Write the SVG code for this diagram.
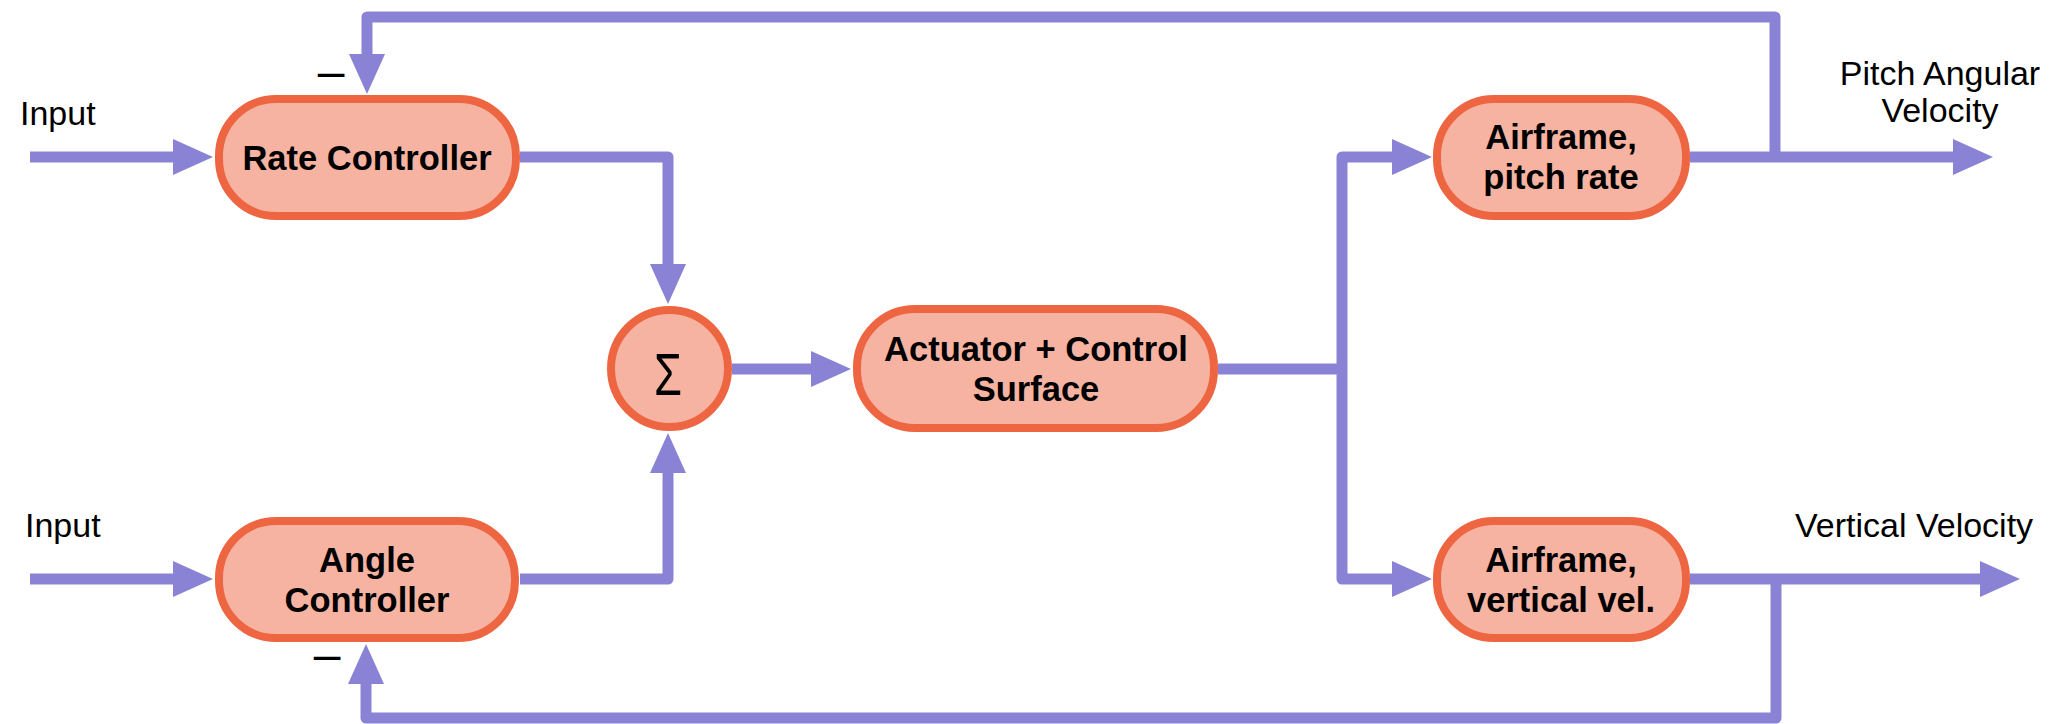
<svg xmlns="http://www.w3.org/2000/svg" width="2069" height="724" viewBox="0 0 2069 724">
  <style>
    .node { fill: #F6B3A1; stroke: #EE6542; stroke-width: 8; }
    .lbl { font-family: "Liberation Sans", Arial, sans-serif; font-size: 34.5px; font-weight: bold; fill: #000; text-anchor: middle; }
    .txt { font-family: "Liberation Sans", Arial, sans-serif; font-size: 34px; fill: #000; }
    .conn { fill: none; stroke: #8A83D5; stroke-width: 11; stroke-linejoin: round; }
    .arr { marker-end: url(#ah); }
    .minus { font-family: "Liberation Sans", Arial, sans-serif; font-size: 48px; fill: #000; text-anchor: middle; }
  </style>
  <defs>
    <marker id="ah" viewBox="0 -18 40 36" markerWidth="40" markerHeight="36" refX="1" refY="0" markerUnits="userSpaceOnUse" orient="auto">
      <path d="M0,-18 L40,0 L0,18 z" fill="#8A83D5"/>
    </marker>
  </defs>
  <rect width="2069" height="724" fill="#fff"/>

  <g id="connectors">
    <path class="conn arr" d="M30,157 H174"/>
    <path class="conn arr" d="M30,579 H174"/>
    <path class="conn arr" d="M520,157 H668 V265"/>
    <path class="conn arr" d="M520,579 H668 V472"/>
    <path class="conn arr" d="M732,369 H812"/>
    <path class="conn" d="M1218,369 H1342"/>
    <path class="conn arr" d="M1342,369 V157 H1393"/>
    <path class="conn arr" d="M1342,369 V579 H1393"/>
    <path class="conn arr" d="M1690,157 H1954"/>
    <path class="conn arr" d="M1690,579 H1981"/>
    <path class="conn arr" d="M1775,157 V17 H367 V55"/>
    <path class="conn arr" d="M1776,579 V718 H366 V683"/>
  </g>

  <g id="rate-controller">
    <rect class="node" x="219" y="99" width="297" height="117" rx="57"/>
    <text class="lbl" x="367" y="170">Rate Controller</text>
  </g>
  <g id="angle-controller">
    <rect class="node" x="219" y="521" width="296" height="117" rx="57"/>
    <text class="lbl" x="367" y="572">Angle</text>
    <text class="lbl" x="367" y="612">Controller</text>
  </g>
  <g id="sum">
    <circle class="node" cx="669.5" cy="368.5" r="58.5"/>
    <text x="654" y="395" font-family="Liberation Sans, Arial, sans-serif" font-size="60" textLength="28" lengthAdjust="spacingAndGlyphs" fill="#000">Σ</text>
  </g>
  <g id="actuator">
    <rect class="node" x="857" y="309" width="357" height="119" rx="58"/>
    <text class="lbl" x="1036" y="361">Actuator + Control</text>
    <text class="lbl" x="1036" y="401">Surface</text>
  </g>
  <g id="airframe-pitch">
    <rect class="node" x="1437" y="99" width="249" height="117" rx="57"/>
    <text class="lbl" x="1561" y="149">Airframe,</text>
    <text class="lbl" x="1561" y="189">pitch rate</text>
  </g>
  <g id="airframe-vertical">
    <rect class="node" x="1437" y="521" width="249" height="117" rx="57"/>
    <text class="lbl" x="1561" y="572">Airframe,</text>
    <text class="lbl" x="1561" y="612">vertical vel.</text>
  </g>

  <g id="labels">
    <text class="txt" x="20" y="125">Input</text>
    <text class="txt" x="25" y="537">Input</text>
    <text class="txt" x="1940" y="85" text-anchor="middle">Pitch Angular</text>
    <text class="txt" x="1940" y="122" text-anchor="middle">Velocity</text>
    <text class="txt" x="1795" y="537">Vertical Velocity</text>
    <text class="minus" x="331" y="88">–</text>
    <text class="minus" x="327" y="671">–</text>
  </g>
</svg>
